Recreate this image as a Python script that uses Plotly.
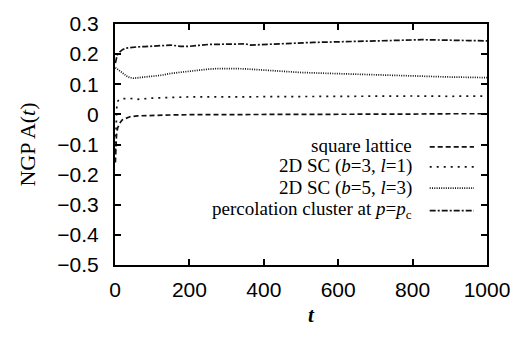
import plotly.graph_objects as go

# ---- data ----
t_sq = [1, 2, 4, 7, 10, 15, 20, 30, 40, 60, 80, 100, 150, 200, 300, 400, 500, 600, 700, 800, 900, 1000]
a_sq = [-0.16, -0.11, -0.07, -0.045, -0.035, -0.025, -0.018, -0.012, -0.008, -0.005, -0.004, -0.003,
        -0.002, -0.001, -0.001, 0.0, 0.0, 0.001, 0.001, 0.001, 0.002, 0.002]

t_sc31 = [1, 2, 3, 5, 8, 12, 20, 40, 60, 80, 100, 150, 200, 300, 400, 500, 600, 700, 800, 900, 1000]
a_sc31 = [-0.12, -0.05, 0.0, 0.03, 0.045, 0.05, 0.052, 0.053, 0.05, 0.052, 0.054, 0.056, 0.058,
          0.058, 0.059, 0.06, 0.06, 0.061, 0.061, 0.06, 0.061]

t_sc53 = [1, 5, 10, 20, 30, 40, 50, 60, 80, 100, 125, 150, 175, 200, 225, 250, 275, 300, 325, 350,
          375, 400, 425, 450, 475, 500, 550, 600, 650, 700, 750, 800, 850, 900, 950, 1000]
a_sc53 = [0.155, 0.152, 0.148, 0.138, 0.128, 0.122, 0.12, 0.121, 0.124, 0.126, 0.13, 0.136, 0.14,
          0.143, 0.147, 0.15, 0.152, 0.153, 0.152, 0.151, 0.149, 0.146, 0.143, 0.141, 0.14, 0.139,
          0.137, 0.135, 0.133, 0.13, 0.128, 0.126, 0.125, 0.124, 0.123, 0.122]

t_pc = [1, 3, 6, 10, 15, 20, 30, 40, 50, 60, 80, 100, 125, 150, 175, 200, 225, 250, 300, 350, 365,
        400, 450, 500, 534, 575, 622, 650, 700, 750, 800, 825, 850, 900, 950, 1000]
a_pc = [0.17, 0.185, 0.197, 0.204, 0.21, 0.215, 0.22, 0.222, 0.223, 0.224, 0.225, 0.227, 0.229, 0.23,
        0.226, 0.226, 0.229, 0.232, 0.233, 0.234, 0.23, 0.232, 0.236, 0.238, 0.239, 0.24, 0.241,
        0.243, 0.244, 0.245, 0.247, 0.248, 0.247, 0.246, 0.245, 0.244]

labels = ["square lattice",
          "2D SC (<i>b</i>=3, <i>l</i>=1)",
          "2D SC (<i>b</i>=5, <i>l</i>=3)",
          "percolation cluster at <i>p</i>=<i>p</i><sub>c</sub>"]
dashes = ["5px,3px", "2px,5px", "1px,1.3px", "6px,2px,2px,2px"]
series = [(t_sq, a_sq), (t_sc31, a_sc31), (t_sc53, a_sc53), (t_pc, a_pc)]

fig = go.Figure()
for (tt, aa), lab, d in zip(series, labels, dashes):
    fig.add_trace(go.Scatter(x=tt, y=aa, mode="lines", name=lab,
                             line=dict(color="#111111", width=1.7, dash=d),
                             showlegend=False))

# custom legend: text right-aligned, sample line on the right
leg_text_y = [0.496, 0.409, 0.321, 0.228]
leg_line_y = [0.490, 0.407, 0.319, 0.226]
for lab, d, ty, ly in zip(labels, dashes, leg_text_y, leg_line_y):
    fig.add_annotation(x=0.803, y=ty, xref="paper", yref="paper", text=lab, showarrow=False,
                       xanchor="right", yanchor="middle", height=20, valign="middle",
                       font=dict(family="Liberation Serif", size=19, color="black"))
    fig.add_shape(type="line", xref="paper", yref="paper", x0=0.846, x1=0.965, y0=ly,
                  y1=ly, line=dict(color="#111111", width=1.7, dash=d))

fig.add_annotation(x=0.527, y=-0.206, xref="paper", yref="paper", text="<b><i>t</i></b>",
                   showarrow=False, xanchor="center", yanchor="middle",
                   font=dict(family="Liberation Serif", size=21, color="black"))

axis_common = dict(showgrid=False, zeroline=False, showline=True, linecolor="black", linewidth=2,
                   mirror="ticks", ticks="inside", ticklen=6, tickwidth=1.7, tickcolor="black",
                   tickfont=dict(family="Liberation Sans", size=21, color="black"))

fig.update_xaxes(range=[0, 1000], dtick=200, tick0=0, ticklabelstandoff=5, **axis_common)
fig.update_yaxes(range=[-0.5, 0.3], dtick=0.1, tick0=0, ticklabelstandoff=10,
                 title=dict(text="NGP A(<i>t</i>)", standoff=16,
                            font=dict(family="Liberation Serif", size=22, color="black")),
                 **axis_common)

fig.update_layout(width=522, height=352, margin=dict(l=115, r=31, t=13, b=87),
                  paper_bgcolor="white", plot_bgcolor="white")

fig.write_html("out.html")
